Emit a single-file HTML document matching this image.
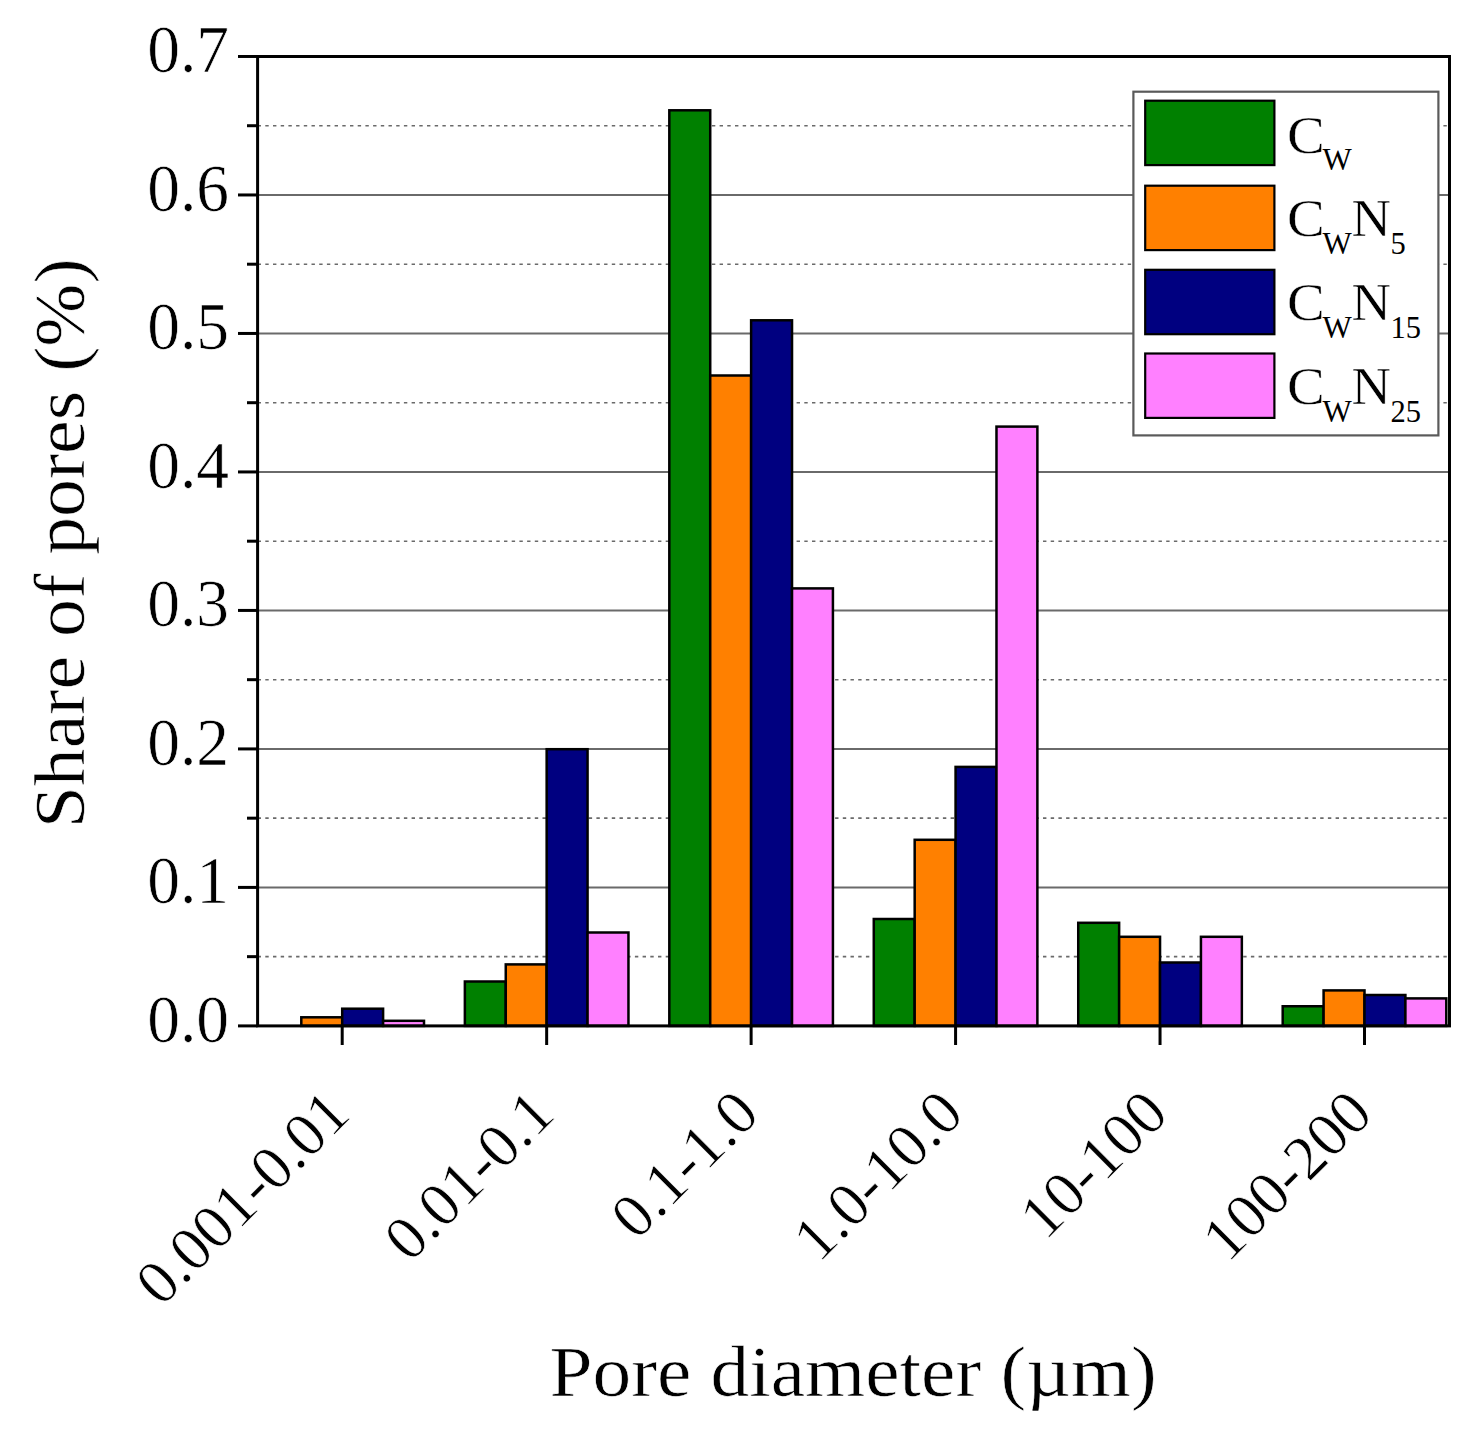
<!DOCTYPE html><html><head><meta charset="utf-8"><style>html,body{margin:0;padding:0;background:#fff;}svg{display:block;}text{font-family:"Liberation Serif",serif;fill:#000;}</style></head><body>
<svg width="1480" height="1437" viewBox="0 0 1480 1437">
<rect width="1480" height="1437" fill="#fff"/>
<line x1="257.6" y1="887.41" x2="1449.5" y2="887.41" stroke="#6a6a6a" stroke-width="2"/>
<line x1="257.6" y1="748.92" x2="1449.5" y2="748.92" stroke="#6a6a6a" stroke-width="2"/>
<line x1="257.6" y1="610.43" x2="1449.5" y2="610.43" stroke="#6a6a6a" stroke-width="2"/>
<line x1="257.6" y1="471.94" x2="1449.5" y2="471.94" stroke="#6a6a6a" stroke-width="2"/>
<line x1="257.6" y1="333.45" x2="1449.5" y2="333.45" stroke="#6a6a6a" stroke-width="2"/>
<line x1="257.6" y1="194.96" x2="1449.5" y2="194.96" stroke="#6a6a6a" stroke-width="2"/>
<line x1="257.6" y1="956.66" x2="1449.5" y2="956.66" stroke="#6a6a6a" stroke-width="1.6" stroke-dasharray="3.4 4.3"/>
<line x1="257.6" y1="818.17" x2="1449.5" y2="818.17" stroke="#6a6a6a" stroke-width="1.6" stroke-dasharray="3.4 4.3"/>
<line x1="257.6" y1="679.68" x2="1449.5" y2="679.68" stroke="#6a6a6a" stroke-width="1.6" stroke-dasharray="3.4 4.3"/>
<line x1="257.6" y1="541.19" x2="1449.5" y2="541.19" stroke="#6a6a6a" stroke-width="1.6" stroke-dasharray="3.4 4.3"/>
<line x1="257.6" y1="402.70" x2="1449.5" y2="402.70" stroke="#6a6a6a" stroke-width="1.6" stroke-dasharray="3.4 4.3"/>
<line x1="257.6" y1="264.20" x2="1449.5" y2="264.20" stroke="#6a6a6a" stroke-width="1.6" stroke-dasharray="3.4 4.3"/>
<line x1="257.6" y1="125.72" x2="1449.5" y2="125.72" stroke="#6a6a6a" stroke-width="1.6" stroke-dasharray="3.4 4.3"/>
<rect x="301.30" y="1017.30" width="40.90" height="8.60" fill="#FF8000" stroke="#000" stroke-width="2.5"/>
<rect x="342.20" y="1008.70" width="40.90" height="17.20" fill="#000080" stroke="#000" stroke-width="2.5"/>
<rect x="383.10" y="1020.80" width="40.90" height="5.10" fill="#FF80FF" stroke="#000" stroke-width="2.5"/>
<rect x="464.86" y="981.50" width="40.90" height="44.40" fill="#008000" stroke="#000" stroke-width="2.5"/>
<rect x="505.76" y="964.40" width="40.90" height="61.50" fill="#FF8000" stroke="#000" stroke-width="2.5"/>
<rect x="546.66" y="749.20" width="40.90" height="276.70" fill="#000080" stroke="#000" stroke-width="2.5"/>
<rect x="587.56" y="932.50" width="40.90" height="93.40" fill="#FF80FF" stroke="#000" stroke-width="2.5"/>
<rect x="669.32" y="110.30" width="40.90" height="915.60" fill="#008000" stroke="#000" stroke-width="2.5"/>
<rect x="710.22" y="375.50" width="40.90" height="650.40" fill="#FF8000" stroke="#000" stroke-width="2.5"/>
<rect x="751.12" y="320.30" width="40.90" height="705.60" fill="#000080" stroke="#000" stroke-width="2.5"/>
<rect x="792.02" y="588.40" width="40.90" height="437.50" fill="#FF80FF" stroke="#000" stroke-width="2.5"/>
<rect x="873.78" y="919.00" width="40.90" height="106.90" fill="#008000" stroke="#000" stroke-width="2.5"/>
<rect x="914.68" y="839.80" width="40.90" height="186.10" fill="#FF8000" stroke="#000" stroke-width="2.5"/>
<rect x="955.58" y="766.90" width="40.90" height="259.00" fill="#000080" stroke="#000" stroke-width="2.5"/>
<rect x="996.48" y="426.60" width="40.90" height="599.30" fill="#FF80FF" stroke="#000" stroke-width="2.5"/>
<rect x="1078.24" y="922.80" width="40.90" height="103.10" fill="#008000" stroke="#000" stroke-width="2.5"/>
<rect x="1119.14" y="936.80" width="40.90" height="89.10" fill="#FF8000" stroke="#000" stroke-width="2.5"/>
<rect x="1160.04" y="962.50" width="40.90" height="63.40" fill="#000080" stroke="#000" stroke-width="2.5"/>
<rect x="1200.94" y="936.80" width="40.90" height="89.10" fill="#FF80FF" stroke="#000" stroke-width="2.5"/>
<rect x="1282.70" y="1006.25" width="40.90" height="19.65" fill="#008000" stroke="#000" stroke-width="2.5"/>
<rect x="1323.60" y="990.40" width="40.90" height="35.50" fill="#FF8000" stroke="#000" stroke-width="2.5"/>
<rect x="1364.50" y="995.00" width="40.90" height="30.90" fill="#000080" stroke="#000" stroke-width="2.5"/>
<rect x="1405.40" y="998.40" width="40.90" height="27.50" fill="#FF80FF" stroke="#000" stroke-width="2.5"/>
<rect x="257.6" y="56.5" width="1191.90" height="969.40" fill="none" stroke="#000" stroke-width="3"/>
<line x1="238" y1="1025.90" x2="257.6" y2="1025.90" stroke="#000" stroke-width="3"/>
<line x1="238" y1="887.41" x2="257.6" y2="887.41" stroke="#000" stroke-width="3"/>
<line x1="238" y1="748.92" x2="257.6" y2="748.92" stroke="#000" stroke-width="3"/>
<line x1="238" y1="610.43" x2="257.6" y2="610.43" stroke="#000" stroke-width="3"/>
<line x1="238" y1="471.94" x2="257.6" y2="471.94" stroke="#000" stroke-width="3"/>
<line x1="238" y1="333.45" x2="257.6" y2="333.45" stroke="#000" stroke-width="3"/>
<line x1="238" y1="194.96" x2="257.6" y2="194.96" stroke="#000" stroke-width="3"/>
<line x1="238" y1="56.47" x2="257.6" y2="56.47" stroke="#000" stroke-width="3"/>
<line x1="247" y1="956.66" x2="257.6" y2="956.66" stroke="#000" stroke-width="3"/>
<line x1="247" y1="818.17" x2="257.6" y2="818.17" stroke="#000" stroke-width="3"/>
<line x1="247" y1="679.68" x2="257.6" y2="679.68" stroke="#000" stroke-width="3"/>
<line x1="247" y1="541.19" x2="257.6" y2="541.19" stroke="#000" stroke-width="3"/>
<line x1="247" y1="402.70" x2="257.6" y2="402.70" stroke="#000" stroke-width="3"/>
<line x1="247" y1="264.20" x2="257.6" y2="264.20" stroke="#000" stroke-width="3"/>
<line x1="247" y1="125.72" x2="257.6" y2="125.72" stroke="#000" stroke-width="3"/>
<line x1="342.20" y1="1025.9" x2="342.20" y2="1045" stroke="#000" stroke-width="3"/>
<line x1="546.66" y1="1025.9" x2="546.66" y2="1045" stroke="#000" stroke-width="3"/>
<line x1="751.12" y1="1025.9" x2="751.12" y2="1045" stroke="#000" stroke-width="3"/>
<line x1="955.58" y1="1025.9" x2="955.58" y2="1045" stroke="#000" stroke-width="3"/>
<line x1="1160.04" y1="1025.9" x2="1160.04" y2="1045" stroke="#000" stroke-width="3"/>
<line x1="1364.50" y1="1025.9" x2="1364.50" y2="1045" stroke="#000" stroke-width="3"/>
<text transform="translate(229,1041.70) scale(1,1.04)" font-size="65.5" text-anchor="end" stroke="#fff" stroke-width="0.6">0.0</text>
<text transform="translate(229,903.21) scale(1,1.04)" font-size="65.5" text-anchor="end" stroke="#fff" stroke-width="0.6">0.1</text>
<text transform="translate(229,764.72) scale(1,1.04)" font-size="65.5" text-anchor="end" stroke="#fff" stroke-width="0.6">0.2</text>
<text transform="translate(229,626.23) scale(1,1.04)" font-size="65.5" text-anchor="end" stroke="#fff" stroke-width="0.6">0.3</text>
<text transform="translate(229,487.74) scale(1,1.04)" font-size="65.5" text-anchor="end" stroke="#fff" stroke-width="0.6">0.4</text>
<text transform="translate(229,349.25) scale(1,1.04)" font-size="65.5" text-anchor="end" stroke="#fff" stroke-width="0.6">0.5</text>
<text transform="translate(229,210.76) scale(1,1.04)" font-size="65.5" text-anchor="end" stroke="#fff" stroke-width="0.6">0.6</text>
<text transform="translate(229,72.27) scale(1,1.04)" font-size="65.5" text-anchor="end" stroke="#fff" stroke-width="0.6">0.7</text>
<text transform="translate(352.70,1116.4) rotate(-45)" font-size="62.5" text-anchor="end" stroke="#fff" stroke-width="0.6">0.001-0.01</text>
<text transform="translate(557.16,1116.4) rotate(-45)" font-size="62.5" text-anchor="end" stroke="#fff" stroke-width="0.6">0.01-0.1</text>
<text transform="translate(761.62,1116.4) rotate(-45)" font-size="62.5" text-anchor="end" stroke="#fff" stroke-width="0.6">0.1-1.0</text>
<text transform="translate(966.08,1116.4) rotate(-45)" font-size="62.5" text-anchor="end" stroke="#fff" stroke-width="0.6">1.0-10.0</text>
<text transform="translate(1170.54,1116.4) rotate(-45)" font-size="62.5" text-anchor="end" stroke="#fff" stroke-width="0.6">10-100</text>
<text transform="translate(1375.00,1116.4) rotate(-45)" font-size="62.5" text-anchor="end" stroke="#fff" stroke-width="0.6">100-200</text>
<text x="549.5" y="1395.5" font-size="72" textLength="607.3" lengthAdjust="spacingAndGlyphs" stroke="#fff" stroke-width="0.6">Pore diameter (µm)</text>
<text transform="translate(83.5,828.3) rotate(-90)" font-size="72" textLength="570" lengthAdjust="spacingAndGlyphs" stroke="#fff" stroke-width="0.6">Share of pores (%)</text>
<rect x="1133.4" y="91.7" width="305" height="343.7" fill="#fff" stroke="#5a5a5a" stroke-width="2.2"/>
<rect x="1145.2" y="100.7" width="129.2" height="64.4" fill="#008000" stroke="#000" stroke-width="2.2"/>
<text x="1287" y="152.6" font-size="52" stroke="#fff" stroke-width="0.4" textLength="37.81" lengthAdjust="spacingAndGlyphs">C</text>
<text x="1322.5" y="170.1" font-size="31">W</text>
<rect x="1145.2" y="185.7" width="129.2" height="64.4" fill="#FF8000" stroke="#000" stroke-width="2.2"/>
<text x="1287" y="236.4" font-size="52" stroke="#fff" stroke-width="0.4" textLength="37.81" lengthAdjust="spacingAndGlyphs">C</text>
<text x="1322.5" y="253.9" font-size="31">W</text>
<text x="1351.4" y="236.4" font-size="52" stroke="#fff" stroke-width="0.4" textLength="39.42" lengthAdjust="spacingAndGlyphs">N</text>
<text x="1390.5" y="253.9" font-size="30.5">5</text>
<rect x="1145.2" y="269.8" width="129.2" height="64.4" fill="#000080" stroke="#000" stroke-width="2.2"/>
<text x="1287" y="320.2" font-size="52" stroke="#fff" stroke-width="0.4" textLength="37.81" lengthAdjust="spacingAndGlyphs">C</text>
<text x="1322.5" y="337.7" font-size="31">W</text>
<text x="1351.4" y="320.2" font-size="52" stroke="#fff" stroke-width="0.4" textLength="39.42" lengthAdjust="spacingAndGlyphs">N</text>
<text x="1390.5" y="337.7" font-size="30.5">15</text>
<rect x="1145.2" y="353.5" width="129.2" height="64.4" fill="#FF80FF" stroke="#000" stroke-width="2.2"/>
<text x="1287" y="404.0" font-size="52" stroke="#fff" stroke-width="0.4" textLength="37.81" lengthAdjust="spacingAndGlyphs">C</text>
<text x="1322.5" y="421.5" font-size="31">W</text>
<text x="1351.4" y="404.0" font-size="52" stroke="#fff" stroke-width="0.4" textLength="39.42" lengthAdjust="spacingAndGlyphs">N</text>
<text x="1390.5" y="421.5" font-size="30.5">25</text>
</svg></body></html>
